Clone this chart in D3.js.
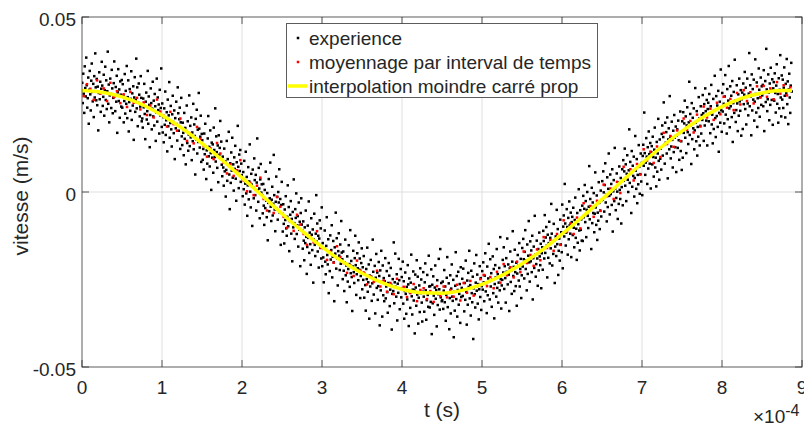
<!DOCTYPE html>
<html>
<head>
<meta charset="utf-8">
<script src="https://cdn.jsdelivr.net/npm/d3@7/dist/d3.min.js"></script>
<style>
  html, body { margin: 0; padding: 0; background: #ffffff; }
  svg { display: block; }
  text { font-family: "Liberation Sans", Arial, Helvetica, sans-serif; fill: #262626; }
</style>
</head>
<body>
<svg id="chart" width="804" height="427"></svg>
<script>
// ---------------- DATA (time in 1e-4 s, velocity in 1e-3 m/s) ----------------
const xTicks = [0, 1, 2, 3, 4, 5, 6, 7, 8, 9];
const xTickLabels = ["0", "1", "2", "3", "4", "5", "6", "7", "8", "9"];
const yTicks = [-50, 0, 50];
const yTickLabels = ["-0.05", "0", "0.05"];
const legendLabels = ["experience", "moyennage par interval de temps", "interpolation moindre carré prop"];

// experience : velocities sampled uniformly in time over [0, 8.875]
const expV = [
31.2,25.4,33.8,28.1,22.6,35.9,29.7,27.3,38.4,30.5,24.1,26.8,32.7,19.5,29.2,34.6,27.9,23.3,31.8,36.7,28.6,25.9,30.9,21.4,33.1,27.0,39.6,29.9,26.2,32.3,24.8,30.1,17.6,28.3,34.2,26.5,31.5,22.9,29.5,37.2,
30.4,24.6,27.2,33.5,21.8,29.1,35.8,26.3,31.9,23.7,28.8,40.1,25.2,30.7,19.9,27.6,32.4,28.0,24.0,34.9,29.6,22.5,26.9,31.1,37.3,27.4,23.1,30.0,25.8,33.2,16.9,28.5,35.1,26.0,29.3,21.2,31.6,27.8,24.4,32.0,
24.1,30.8,27.5,19.9,26.0,33.7,22.4,28.9,25.2,36.0,21.1,27.1,31.9,17.3,25.7,29.4,23.2,26.6,34.5,20.6,28.2,24.7,30.2,14.9,27.0,32.8,22.9,26.3,38.1,23.9,29.9,18.8,25.5,31.0,27.8,21.6,24.4,33.1,26.9,20.2,
21.0,18.4,26.7,24.2,30.9,22.3,15.1,25.8,28.4,20.7,23.1,34.6,19.5,27.3,24.9,12.8,22.0,29.6,25.4,17.9,23.8,31.5,21.6,26.1,19.0,28.0,24.5,14.6,22.7,32.4,20.1,27.0,23.4,25.0,16.7,29.2,21.9,24.0,35.3,18.6,
25.3,17.0,21.4,14.2,23.9,19.2,28.7,16.3,20.5,22.8,11.6,26.4,18.8,21.9,31.4,15.5,19.7,24.6,17.9,13.0,22.2,27.5,20.0,16.8,23.3,9.4,21.1,18.2,25.8,19.4,14.7,29.9,22.5,17.5,20.8,24.1,12.3,19.9,26.9,15.9,
13.4,19.8,16.9,10.5,22.6,15.2,18.3,7.9,17.4,24.7,14.0,20.2,11.8,16.4,27.6,13.1,18.9,15.6,21.3,9.1,17.0,14.5,25.2,12.2,19.3,16.0,5.0,20.9,15.0,23.5,11.0,17.8,14.3,28.3,18.1,12.7,15.8,21.8,8.6,16.6,
14.8,9.2,12.3,6.4,16.7,10.8,19.5,13.0,3.7,11.9,8.1,15.3,21.7,10.2,12.9,7.3,17.6,11.1,0.6,14.1,9.8,13.6,5.5,18.4,12.0,10.0,23.9,8.7,15.9,11.4,6.9,13.3,2.8,16.2,10.6,12.6,20.3,9.5,14.4,7.8,
4.5,10.1,7.0,1.8,12.4,5.9,8.8,-1.3,6.3,14.6,3.2,9.4,7.6,17.2,5.0,-4.9,8.2,2.6,11.3,6.1,15.5,4.1,7.9,0.4,9.9,6.6,13.2,3.8,-2.5,8.5,5.4,18.9,7.2,1.1,10.7,6.0,12.0,2.9,8.1,4.8,
3.9,-1.2,5.7,0.8,8.9,-3.6,2.4,11.5,-0.4,4.3,-6.8,1.9,7.1,-2.1,3.0,13.6,0.1,-4.4,5.2,2.1,-9.7,6.4,1.3,-1.8,9.6,3.4,-0.9,4.9,-5.3,2.7,15.3,0.5,-2.8,6.9,1.0,-7.5,3.6,8.0,-0.2,2.2,
-1.0,-6.1,2.3,-3.9,-9.4,0.6,-4.6,5.8,-2.5,-7.2,-0.3,-13.8,-3.1,3.7,-5.5,-1.8,8.4,-4.2,-8.3,-2.2,1.5,-6.7,-3.4,10.6,-0.9,-5.0,-11.2,-2.8,4.4,-4.8,-1.4,-7.9,0.0,-3.0,6.5,-5.9,-2.0,-15.1,-3.7,2.9,
-6.2,-11.3,-3.5,-9.1,-14.7,-5.0,-8.0,-1.2,-10.4,-12.5,-7.1,1.9,-9.8,-4.3,-16.9,-8.3,-6.5,-2.6,-11.9,-7.7,-19.8,-5.7,-10.1,3.6,-8.9,-13.4,-4.9,-7.4,-0.4,-12.0,-9.5,-6.9,-15.6,-3.0,-10.8,-8.5,-21.2,-6.0,-1.8,-9.3,
-11.0,-16.2,-8.4,-13.9,-19.5,-10.1,-14.6,-5.3,-12.8,-23.4,-15.7,-9.6,-13.1,-2.7,-17.4,-11.6,-14.9,-20.8,-7.5,-12.2,-16.6,-10.7,-25.9,-13.6,-6.2,-15.1,-18.3,-11.9,-0.9,-14.2,-9.0,-17.0,-12.5,-21.6,-13.3,-8.1,-15.9,-10.4,-19.0,-4.4,
-21.2,-14.6,-18.7,-25.8,-16.1,-11.0,-19.9,-23.5,-15.4,-7.2,-18.0,-20.7,-13.5,-28.9,-17.1,-22.6,-12.4,-19.3,-16.6,-9.5,-24.4,-18.5,-14.0,-20.1,-31.2,-15.8,-17.6,-5.9,-21.9,-13.2,-19.0,-26.7,-16.9,-11.8,-18.2,-22.3,-15.0,-20.5,-8.3,-17.3,
-19.2,-24.9,-17.0,-22.5,-28.3,-20.1,-13.6,-23.8,-21.0,-31.5,-18.4,-25.6,-22.0,-15.2,-20.6,-27.1,-10.9,-23.2,-19.7,-24.3,-34.0,-21.3,-16.8,-22.9,-26.0,-18.9,-12.5,-20.9,-29.4,-23.5,-17.5,-21.8,-25.2,-14.4,-22.2,-19.0,-30.3,-24.0,-20.3,-16.1,
-27.8,-21.5,-25.1,-18.3,-30.2,-23.4,-26.6,-33.9,-22.0,-24.9,-15.9,-28.5,-25.8,-20.7,-36.2,-23.9,-27.0,-19.4,-24.2,-31.1,-26.1,-13.6,-22.8,-29.3,-25.4,-21.1,-34.7,-24.5,-17.7,-27.4,-23.0,-30.8,-26.9,-20.0,-24.0,-38.1,-22.4,-28.1,-16.8,-25.7,
-35.6,-21.0,-29.5,-24.6,-31.2,-25.5,-18.9,-30.4,-27.0,-22.6,-28.6,-34.5,-26.0,-20.3,-23.9,-32.6,-27.9,-21.7,-26.5,-39.3,-29.1,-24.9,-28.3,-14.4,-31.8,-25.8,-17.6,-27.1,-29.9,-23.5,-36.7,-26.2,-28.8,-19.1,-25.2,-33.5,-27.6,-22.0,-30.1,-24.3,
-27.6,-19.9,-31.9,-25.5,-36.2,-28.3,-23.0,-29.1,-34.8,-27.1,-30.7,-20.9,-26.4,-38.3,-24.7,-28.6,-33.1,-25.9,-17.9,-29.8,-35.0,-27.9,-22.7,-31.0,-28.0,-40.4,-23.6,-27.3,-32.5,-19.5,-29.3,-24.2,-37.6,-30.2,-26.7,-34.3,-21.8,-28.9,-25.0,-31.6,
-37.0,-28.5,-22.9,-29.9,-34.2,-25.8,-20.4,-28.1,-36.5,-30.9,-23.7,-29.4,-32.8,-18.2,-27.0,-33.0,-26.9,-31.4,-22.1,-40.6,-26.5,-31.8,-24.1,-29.6,-35.1,-27.3,-21.0,-30.5,-28.0,-38.4,-25.2,-32.3,-29.2,-19.1,-27.8,-33.6,-16.3,-30.1,-26.0,-31.2,
-30.9,-25.6,-33.4,-28.2,-22.3,-31.5,-27.0,-36.8,-29.4,-24.5,-18.6,-32.9,-28.8,-26.1,-39.2,-30.3,-23.8,-34.7,-27.6,-20.7,-29.9,-31.1,-25.1,-41.5,-28.5,-33.9,-26.8,-17.2,-30.6,-24.0,-35.6,-28.0,-22.8,-32.2,-29.1,-26.3,-37.4,-21.5,-30.0,-27.4,
-24.8,-29.7,-21.9,-27.9,-34.1,-26.0,-30.8,-19.6,-28.5,-37.9,-25.3,-32.2,-23.1,-27.1,-16.8,-30.4,-26.6,-35.3,-22.5,-28.9,-31.5,-24.2,-42.0,-27.5,-20.4,-29.2,-33.0,-25.9,-18.0,-28.2,-23.6,-31.9,-26.3,-36.4,-27.8,-21.2,-30.0,-24.6,-33.7,-26.9,
-22.6,-27.9,-20.1,-25.8,-31.2,-23.9,-17.5,-28.4,-26.0,-34.6,-21.3,-29.5,-24.7,-14.8,-25.5,-30.7,-19.2,-27.0,-23.2,-32.8,-25.0,-18.4,-28.9,-22.0,-36.1,-26.3,-20.9,-24.4,-29.9,-16.3,-27.4,-23.5,-31.6,-25.9,-21.7,-28.1,-12.9,-24.9,-33.3,-26.7,
-25.1,-19.4,-23.0,-15.8,-27.7,-21.2,-24.6,-31.6,-18.9,-22.8,-13.3,-26.4,-20.7,-23.6,-34.0,-21.8,-17.0,-25.7,-22.4,-29.1,-19.9,-11.2,-24.0,-21.4,-28.3,-16.5,-22.9,-26.9,-20.2,-32.5,-23.3,-18.0,-21.0,-25.3,-14.6,-27.0,-22.0,-19.1,-30.3,-23.8,
-16.0,-21.3,-13.4,-19.2,-24.7,-17.1,-10.9,-22.0,-19.5,-28.1,-15.0,-23.4,-18.2,-8.3,-20.1,-25.6,-14.1,-19.8,-16.7,-22.9,-12.5,-30.7,-18.9,-15.6,-21.7,-6.8,-17.9,-24.2,-20.6,-13.9,-19.0,-26.8,-16.3,-22.4,-11.6,-18.4,-20.9,-14.8,-27.5,-17.5,
-15.8,-22.2,-11.1,-14.0,-19.0,-6.6,-17.4,-13.0,-10.0,-15.3,-24.4,-12.2,-18.8,-14.6,-8.5,-20.4,-13.1,-16.1,-3.4,-11.9,-21.0,-14.2,-17.7,-9.1,-13.8,-26.0,-15.6,-12.7,-18.3,-5.1,-14.9,-10.6,-23.7,-16.8,-13.3,-19.6,-7.9,-15.0,-11.5,-17.2,
-3.6,-21.8,-9.9,-6.7,-12.7,2.3,-9.0,-15.3,-11.6,-4.9,-10.0,-17.9,-7.4,-13.5,-2.7,-9.5,-11.9,-5.9,-18.6,-8.6,-7.1,-12.3,-4.5,-10.2,-15.8,-8.0,-1.6,-13.1,-10.5,-19.4,-6.0,-14.5,-9.2,0.8,-11.0,-16.7,-5.2,-10.8,-7.8,-13.9,
-3.9,-14.0,-1.1,-7.2,-4.8,2.0,-8.6,-2.6,-12.9,-5.1,0.0,-6.8,-10.3,-4.2,7.4,-7.8,-2.0,-5.0,-16.3,1.2,-8.9,-3.0,-6.0,-0.3,-11.5,-6.2,5.6,-4.4,-9.4,-1.0,-13.7,-5.9,-8.2,2.8,-3.1,-10.6,-5.3,0.4,-7.0,-2.3,
3.1,-2.2,5.9,-0.1,-5.6,2.0,8.2,-3.0,-0.8,-8.4,4.2,-4.3,0.9,11.0,-1.1,-6.4,5.0,-0.6,2.3,-3.7,6.5,-11.3,0.2,3.4,-2.6,12.6,1.0,-5.2,-1.7,5.3,0.1,-7.7,2.7,-3.4,7.3,0.6,-2.0,4.0,-9.0,1.4,
6.5,-3.8,9.1,3.2,5.9,12.4,1.8,7.9,-2.6,5.2,10.5,3.5,0.0,6.2,17.9,2.6,8.6,5.4,-6.0,11.7,1.5,7.5,4.6,10.1,-1.3,4.0,16.0,6.1,0.9,9.4,-3.2,4.9,2.2,13.4,7.2,-0.5,5.1,11.0,3.0,8.3,
-0.9,10.3,13.5,7.5,22.7,11.1,4.9,8.4,15.4,10.1,2.3,12.8,6.7,17.3,10.8,8.1,14.0,1.0,11.4,13.1,7.9,15.8,10.0,4.4,12.1,18.4,7.0,9.8,1.6,14.3,5.8,11.0,20.9,8.9,3.5,15.0,9.5,12.4,6.4,16.6,
19.0,10.4,15.7,25.6,13.5,8.1,19.8,14.1,17.1,11.0,21.3,3.9,15.0,18.2,12.2,27.4,15.8,9.6,13.0,20.1,14.9,7.0,17.5,11.4,22.0,15.5,12.8,18.7,5.7,16.1,17.9,12.6,20.4,14.8,9.2,16.9,23.0,11.7,14.5,6.3,
20.2,9.8,22.8,16.9,19.6,26.1,15.5,21.6,11.1,19.0,24.2,17.1,13.7,19.9,31.5,16.3,22.3,19.1,8.0,25.4,15.1,21.2,18.2,23.9,12.2,17.6,29.7,19.8,14.5,23.1,10.4,18.6,15.8,27.1,21.0,13.3,18.9,24.5,16.7,22.0,
20.6,27.7,22.5,14.6,25.1,19.0,29.6,23.1,20.4,26.3,13.3,23.7,25.5,20.2,28.0,22.4,16.8,24.5,30.6,19.3,22.1,13.9,26.6,18.0,23.3,33.2,21.1,15.7,27.4,21.7,24.7,18.6,28.9,11.5,22.6,25.8,19.8,35.0,23.4,17.2,
28.3,23.0,30.8,25.2,19.6,27.3,33.4,22.1,24.9,16.7,29.4,20.8,26.1,36.0,23.9,18.5,30.2,24.5,27.5,21.4,31.7,14.3,25.4,28.6,22.6,37.8,26.2,20.0,23.4,30.5,25.3,17.4,27.9,21.8,32.4,25.9,23.2,29.1,16.1,26.5,
28.4,18.0,31.0,25.1,27.8,34.3,23.7,29.8,19.3,27.2,32.4,25.3,21.9,28.1,39.7,24.5,30.5,27.3,16.2,33.6,23.3,29.4,26.4,32.1,20.4,25.8,37.9,28.0,22.7,31.3,18.6,26.8,24.0,35.3,29.2,21.5,27.1,32.7,24.9,30.2,
27.6,30.6,24.5,34.8,17.4,28.5,31.7,25.7,40.9,29.3,23.1,26.5,33.6,28.4,20.5,31.0,24.9,35.5,29.0,26.3,32.2,19.2,29.6,31.4,26.1,33.9,28.3,22.7,30.4,36.5,25.2,28.0,19.8,32.5,23.9,29.2,39.1,27.0,21.6,33.3,
26.4,32.1,24.0,29.8,35.6,27.5,21.3,30.9,28.2,38.0,25.1,31.6,19.4,29.3,33.8,27.0,22.6,30.4,36.9,28.7
];
const expRange = [0, 8.875];

// moyennage par interval de temps : interval means, uniform in time over [0, 8.875]
const moyV = [
27.4,30.8,29.5,26.3,31.9,28.1, 29.6,26.0,31.2,27.1,28.8,25.4, 27.9,24.3,28.6,25.5,26.9,23.6,
25.6,22.0,24.7,21.3,26.4,23.0, 21.8,18.7,22.9,19.4,17.5,21.0, 17.9,14.6,16.8,13.9,18.6,15.2,
13.2,10.1,12.5,9.4,14.0,11.0, 8.4,5.3,7.9,4.6,6.2,9.1, 3.3,0.2,2.6,-0.9,1.8,4.1,
-2.0,-5.3,-2.9,-6.0,-1.4,-4.2, -7.1,-10.2,-8.0,-11.1,-6.5,-9.3, -12.0,-15.1,-12.8,-14.4,-11.2,-16.0,
-16.1,-19.4,-17.0,-20.2,-15.5,-18.6, -20.3,-23.1,-21.0,-24.0,-19.6,-22.4, -23.0,-26.4,-24.1,-25.7,-22.5,-27.0,
-25.3,-28.5,-26.0,-29.2,-24.8,-27.6, -27.1,-30.0,-28.9,-26.3,-31.2,-28.0, -27.5,-30.6,-28.3,-31.4,-26.9,-29.7,
-27.0,-30.1,-28.0,-29.9,-26.5,-31.0, -26.0,-28.8,-25.4,-29.6,-27.0,-24.9, -23.7,-26.9,-24.3,-27.5,-22.8,-25.9,
-20.6,-23.8,-21.5,-24.4,-19.9,-22.9, -17.0,-20.3,-18.0,-21.1,-16.4,-19.5, -12.9,-16.0,-13.7,-16.8,-12.0,-15.1,
-8.1,-11.3,-9.0,-12.0,-7.3,-10.4, -3.2,-6.3,-4.0,-7.1,-2.5,-5.4, 2.1,-1.2,1.0,-2.0,2.9,-0.3,
7.2,4.1,6.5,3.3,8.0,5.0, 12.2,9.0,11.5,8.3,13.0,10.0, 16.9,13.7,16.0,12.9,17.6,14.6,
21.0,17.8,20.3,17.0,22.1,18.7, 24.4,21.3,23.8,20.6,25.5,22.2, 27.2,24.1,26.6,23.4,28.3,25.0,
29.1,26.0,28.5,25.3,30.2,27.0, 30.3,27.2,29.6,26.5,31.4,28.1, 30.5,27.6,29.9
];

// interpolation moindre carré : fitted curve
const fitT = [0,0.25,0.5,0.75,1,1.25,1.5,1.75,2,2.25,2.5,2.75,3,3.25,3.5,3.75,4,4.25,4.5,4.75,5,5.25,5.5,5.75,6,6.25,6.5,6.75,7,7.25,7.5,7.75,8,8.25,8.5,8.75,8.875];
const fitV = [29.0,28.5,27.2,25.0,21.9,18.2,13.9,9.2,4.1,-1.0,-6.2,-11.1,-15.7,-19.8,-23.2,-25.9,-27.8,-28.8,-28.9,-28.1,-26.4,-23.8,-20.5,-16.6,-12.0,-7.2,-2.1,3.1,8.2,13.0,17.4,21.2,24.4,26.8,28.3,29.0,29.0];

// ---------------- DRAWING ----------------
const W = 804, H = 427;
const plot = { left: 82, right: 802, top: 17, bottom: 367 };
const svg = d3.select("#chart");
svg.append("rect").attr("width", W).attr("height", H).attr("fill", "#ffffff");

const x = d3.scaleLinear().domain([0, 9]).range([plot.left, plot.right]);
const y = d3.scaleLinear().domain([-50, 50]).range([plot.bottom, plot.top]);

const gridColor = "#dfdfdf";
const axisColor = "#262626";

// grid
const grid = svg.append("g");
grid.selectAll("line.gx").data(xTicks.filter(t => t > 0 && t < 9)).join("line")
  .attr("x1", d => x(d)).attr("x2", d => x(d))
  .attr("y1", plot.top).attr("y2", plot.bottom)
  .attr("stroke", gridColor).attr("stroke-width", 1);
grid.selectAll("line.gy").data(yTicks.filter(t => t > -50 && t < 50)).join("line")
  .attr("x1", plot.left).attr("x2", plot.right)
  .attr("y1", d => y(d)).attr("y2", d => y(d))
  .attr("stroke", gridColor).attr("stroke-width", 1);

// clip for data
svg.append("clipPath").attr("id", "clip").append("rect")
  .attr("x", plot.left).attr("y", plot.top)
  .attr("width", plot.right - plot.left).attr("height", plot.bottom - plot.top);

const data = svg.append("g").attr("clip-path", "url(#clip)");
const nExp = expV.length;
const expPts = expV.map((v, i) => [expRange[0] + (i + 0.5) * (expRange[1] - expRange[0]) / nExp, v]);
const nMoy = moyV.length;
const moyPts = moyV.map((v, i) => [expRange[0] + (i + 0.5) * (expRange[1] - expRange[0]) / nMoy, v]);

const ms = 2.5;
data.selectAll("rect.exp").data(expPts).join("rect")
  .attr("x", d => x(d[0]) - ms / 2).attr("y", d => y(d[1]) - ms / 2)
  .attr("width", ms).attr("height", ms).attr("fill", "#000000");

data.selectAll("rect.moy").data(moyPts).join("rect")
  .attr("x", d => x(d[0]) - ms / 2).attr("y", d => y(d[1]) - ms / 2)
  .attr("width", ms).attr("height", ms).attr("fill", "#ff0000");

const line = d3.line().x(d => x(d[0])).y(d => y(d[1])).curve(d3.curveMonotoneX);
data.append("path").datum(fitT.map((t, i) => [t, fitV[i]]))
  .attr("d", line).attr("fill", "none")
  .attr("stroke", "#ffff00").attr("stroke-width", 3.5).attr("stroke-linejoin", "round");

// axes box
svg.append("rect")
  .attr("x", plot.left).attr("y", plot.top)
  .attr("width", plot.right - plot.left).attr("height", plot.bottom - plot.top)
  .attr("fill", "none").attr("stroke", axisColor).attr("stroke-width", 1).attr("stroke-opacity", 0.75);

// ticks (inward)
const tl = 7;
const ticks = svg.append("g").attr("stroke", axisColor).attr("stroke-opacity", 0.75).attr("stroke-width", 1);
xTicks.forEach(t => {
  ticks.append("line").attr("x1", x(t)).attr("x2", x(t)).attr("y1", plot.bottom).attr("y2", plot.bottom - tl);
  ticks.append("line").attr("x1", x(t)).attr("x2", x(t)).attr("y1", plot.top).attr("y2", plot.top + tl);
});
yTicks.forEach(t => {
  ticks.append("line").attr("x1", plot.left).attr("x2", plot.left + tl).attr("y1", y(t)).attr("y2", y(t));
  ticks.append("line").attr("x1", plot.right).attr("x2", plot.right - tl).attr("y1", y(t)).attr("y2", y(t));
});

// tick labels
svg.selectAll("text.xt").data(xTicks).join("text")
  .attr("x", d => x(d)).attr("y", 393.5)
  .attr("text-anchor", "middle").attr("font-size", 19)
  .text((d, i) => xTickLabels[i]);
svg.selectAll("text.yt").data(yTicks).join("text")
  .attr("x", 76).attr("y", d => y(d) + 8.5)
  .attr("text-anchor", "end").attr("font-size", 19)
  .text((d, i) => yTickLabels[i]);

// axis labels
svg.append("text").attr("x", x(4.5)).attr("y", 417)
  .attr("text-anchor", "middle").attr("font-size", 21).text("t (s)");
svg.append("text").attr("transform", "translate(28,196) rotate(-90)")
  .attr("text-anchor", "middle").attr("font-size", 21).text("vitesse (m/s)");

// exponent
const ex = svg.append("text").attr("x", 753).attr("y", 423).attr("font-size", 19);
ex.append("tspan").text("×10");
ex.append("tspan").attr("dy", -7).attr("font-size", 16).text("-4");

// legend
const lg = svg.append("g");
lg.append("rect").attr("x", 286.5).attr("y", 23.5).attr("width", 311).attr("height", 74)
  .attr("fill", "#ffffff").attr("stroke", axisColor).attr("stroke-opacity", 0.75).attr("stroke-width", 1);
const rows = [38, 62, 86];
lg.append("rect").attr("x", 298 - ms / 2).attr("y", rows[0] - ms / 2).attr("width", ms).attr("height", ms).attr("fill", "#000");
lg.append("rect").attr("x", 298 - ms / 2).attr("y", rows[1] - ms / 2).attr("width", ms).attr("height", ms).attr("fill", "#ff0000");
lg.append("line").attr("x1", 288).attr("x2", 307).attr("y1", rows[2]).attr("y2", rows[2])
  .attr("stroke", "#ffff00").attr("stroke-width", 3.5);
legendLabels.forEach((t, i) => {
  lg.append("text").attr("x", 309).attr("y", rows[i] + 7).attr("font-size", 19).text(t);
});
</script>
</body>
</html>
